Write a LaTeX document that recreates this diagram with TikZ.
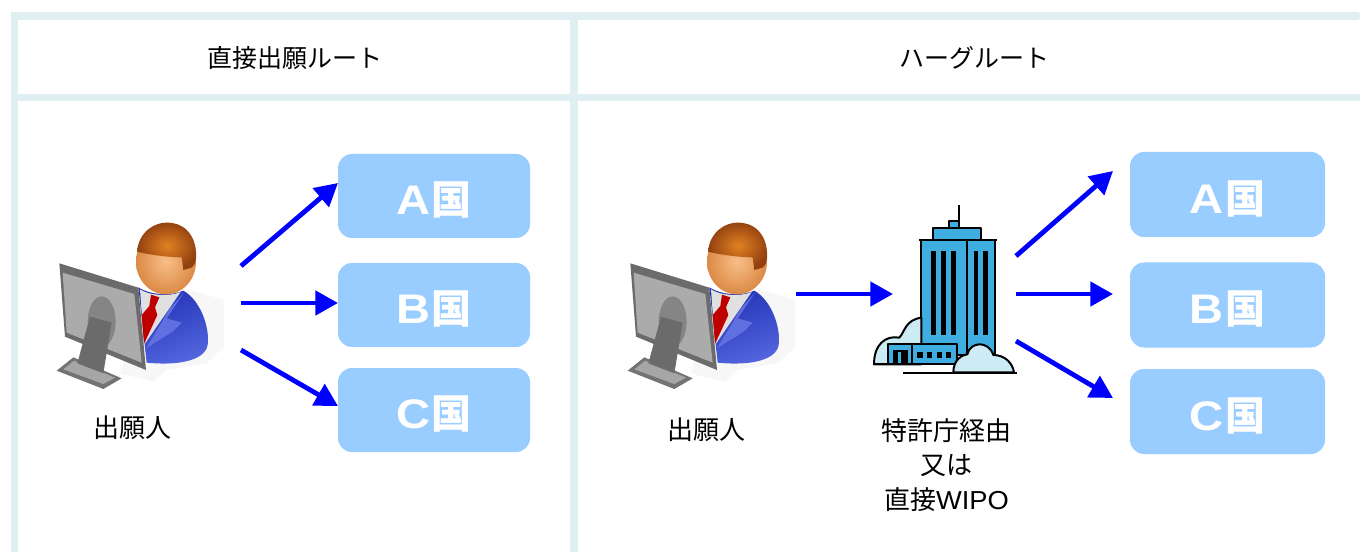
\documentclass[tikz,border=0pt]{standalone}
\usepackage{fontspec}
\setmainfont{Liberation Sans}
\newfontfamily\cjk{Noto Sans CJK JP}
\newfontfamily\widelat[FakeStretch=1.14]{Liberation Sans}
\newfontfamily\wipolat[FakeStretch=1.05]{Liberation Sans}
\usetikzlibrary{arrows.meta}
\definecolor{frameblue}{HTML}{DFEFF2}
\definecolor{boxblue}{HTML}{99CCFF}
\definecolor{towerblue}{HTML}{3FADE0}
\definecolor{cloudblue}{HTML}{CDEBF5}
\definecolor{suitdark}{HTML}{2233B5}
\definecolor{suitlight}{HTML}{5566E0}
\definecolor{lapelc}{HTML}{6070E0}
\definecolor{facein}{HTML}{F8BE88}
\definecolor{faceout}{HTML}{DB8A45}
\definecolor{hairin}{HTML}{E08222}
\definecolor{hairout}{HTML}{93400F}
\tikzset{
  country/.style={fill=boxblue,draw=none,rounded corners=10.5pt,inner sep=0pt,text=white},
  flow/.style={draw=blue,line width=3.6pt,-{Triangle[length=17pt,width=18pt]}},
  label/.style={font=\fontsize{19.5pt}{26pt}\cjk,text=black,align=center,inner sep=0pt},
  headlabel/.style={font=\fontsize{18.75pt}{26pt}\cjk,text=black,inner sep=0pt},
  band/.style={fill=frameblue,draw=none},
  ink/.style={draw=black,line width=1.5pt,line join=round},
  bar/.style={fill=black,draw=none}
}
\newcommand{\ctry}[1]{\raisebox{-4pt}[20pt][0pt]{\fontsize{31pt}{31pt}\widelat\bfseries #1\hspace{1pt}\fontsize{30pt}{30pt}\cjk\bfseries 国}}
\newcommand{\personfig}{%
  \fill[black!3] (310,290) -- (450,270) -- (552,300) -- (552,440) -- (500,490) -- (380,510) -- (340,545) -- (240,520) -- cycle;
  % body
  \path[left color=suitdark,right color=suitlight,shading angle=20]
    (295,262) .. controls (340,290) and (400,285) .. (430,272) .. controls (480,300) and (510,380) .. (503,435) .. controls (495,480) and (420,498) .. (320,488) -- cycle;
  % shirt
  \fill[black!12] (300,268) .. controls (330,288) and (390,290) .. (422,276) -- (312,435) -- cycle;
  % tie
  \fill[red!75!black] (333,284) -- (358,292) -- (345,322) -- (352,345) -- (312,432) -- (305,345) -- (328,318) -- cycle;
  % lapel
  \fill[lapelc] (432,278) -- (380,355) -- (425,368) -- (398,395) -- (318,445) -- (390,325) -- cycle;
  % head
  \shade[inner color=facein,outer color=faceout] (378,185) ellipse [x radius=90,y radius=98];
  % hair
  \shade[inner color=hairin,outer color=hairout]
    (291,155) .. controls (296,95) and (345,65) .. (385,68) .. controls (440,70) and (472,115) .. (468,175) .. controls (467,195) and (455,205) .. (448,205) -- (430,210) -- (425,172) .. controls (390,172) and (330,165) .. (291,155) -- cycle;
  % monitor
  \fill[black!58] (58,190) -- (295,263) -- (318,510) -- (75,410) -- cycle;
  \fill[black!33] (68,218) -- (283,282) -- (305,488) -- (80,398) -- cycle;
  \fill[black!48] (185,365) ellipse [x radius=42,y radius=76];
  \fill[black!55] (50,512) -- (100,472) -- (245,535) -- (190,567) -- cycle;
  \fill[black!35] (70,508) -- (102,482) -- (225,533) -- (190,552) -- cycle;
  \fill[black!58] (150,350) -- (215,368) -- (190,520) -- (112,490) -- cycle;
}
\begin{document}
\begin{tikzpicture}[x=0.75pt,y=-0.75pt]
\useasboundingbox (0,0) rectangle (1360,552);
\fill[white] (0,0) rectangle (1360,552);
% table frame
\fill[band,rounded corners=2pt] (11,12) rectangle (1360,20);
\fill[band] (11,94) rectangle (1360,101);
\fill[band] (11,12) rectangle (18,552);
\fill[band] (570,12) rectangle (578,552);
\node[headlabel] (headL) at (294.5,58) {直接出願ルート};
\node[headlabel] (headR) at (974,58) {ハーグルート};
% applicants
\begin{scope}[shift={(40,200)},x=0.25pt,y=-0.25pt]\personfig\end{scope}
\begin{scope}[shift={(611,200)},x=0.25pt,y=-0.25pt]\personfig\end{scope}
\node[label] (applL) at (132,428) {出願人};
\node[label] (applR) at (706,430) {出願人};
% building
\begin{scope}[shift={(860,195)},x=0.25pt,y=-0.25pt]
  \draw[ink] (296,30) -- (296,100);
  \filldraw[ink,fill=towerblue] (268,78) rectangle (296,100);
  \filldraw[ink,fill=towerblue] (220,100) rectangle (362,136);
  \filldraw[ink,fill=towerblue] (184,136) rectangle (405,480);
  \draw[ink] (178,136) -- (412,136);
  \draw[ink] (320,136) -- (320,480);
  \foreach \xx in {220,250,280,348,376}{\fill[bar] (\xx-7,168) rectangle (\xx+7,420);}
  \filldraw[ink,fill=cloudblue] (42,508) .. controls (42,450) and (75,420) .. (118,428) .. controls (135,410) and (135,375) .. (184,368) -- (184,508) -- cycle;
  \filldraw[ink,fill=towerblue] (85,448) rectangle (292,508);
  \draw[ink] (155,448) -- (155,508);
  \fill[bar] (98,465) rectangle (143,508);
  \fill[towerblue] (114,472) rectangle (123,508);
  \foreach \xx in {180,209,238,266}{\fill[bar] (\xx-8,472) rectangle (\xx+8,490);}
  \draw[ink] (42,508) -- (292,508);
  \filldraw[ink,fill=cloudblue] (280,532) .. controls (280,495) and (305,480) .. (322,478) .. controls (330,440) and (385,435) .. (400,480) .. controls (435,480) and (458,505) .. (462,532) -- cycle;
  \draw[black,line width=1.7pt] (130,534) -- (472,534);
\end{scope}
\node[label] (via) at (946.5,465) {特許庁経由\\又は\\直接{\wipolat WIPO}};
% countries
\node[country,minimum width=144pt,minimum height=63pt] (LA) at (434,196) {\ctry{A}};
\node[country,minimum width=144pt,minimum height=63pt] (LB) at (434,305) {\ctry{B}};
\node[country,minimum width=144pt,minimum height=63pt] (LC) at (434,410) {\ctry{C}};
\node[country,minimum width=146.25pt,minimum height=63.75pt] (RA) at (1227.5,194.5) {\ctry{A}};
\node[country,minimum width=146.25pt,minimum height=63.75pt] (RB) at (1227.5,305) {\ctry{B}};
\node[country,minimum width=146.25pt,minimum height=63.75pt] (RC) at (1227.5,411.5) {\ctry{C}};
% connector ends
\coordinate (sLA) at (241,266); \coordinate (eLA) at (338,183);
\coordinate (sLB) at (241,303); \coordinate (eLB) at (338,303);
\coordinate (sLC) at (241,350); \coordinate (eLC) at (338,406);
\coordinate (sP) at (796,294);  \coordinate (eP) at (893,294);
\coordinate (sRA) at (1016,256); \coordinate (eRA) at (1113,171);
\coordinate (sRB) at (1016,294); \coordinate (eRB) at (1113,294);
\coordinate (sRC) at (1016,341); \coordinate (eRC) at (1113,398);
\foreach \a/\b in {sLA/eLA,sLB/eLB,sLC/eLC,sP/eP,sRA/eRA,sRB/eRB,sRC/eRC}{\draw[flow] (\a) -- (\b);}
\end{tikzpicture}
\end{document}
